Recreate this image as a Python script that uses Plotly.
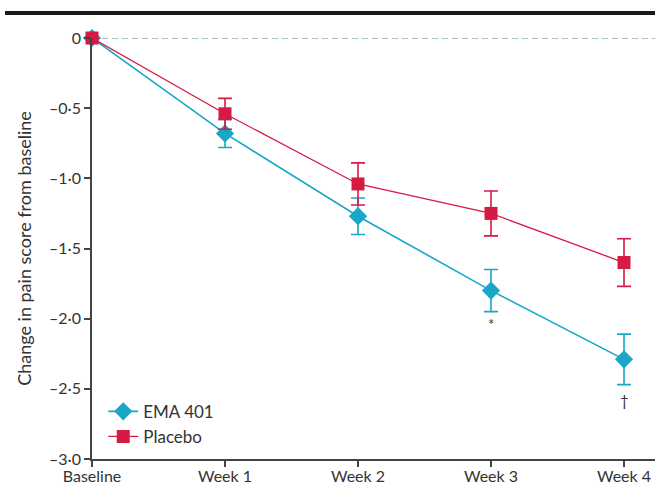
import plotly.graph_objects as go

categories = ["Baseline", "Week 1", "Week 2", "Week 3", "Week 4"]
ema401 = [0, -0.68, -1.27, -1.80, -2.29]
ema401_err = [0, 0.10, 0.13, 0.15, 0.18]
placebo = [0, -0.54, -1.04, -1.25, -1.60]
placebo_err = [0, 0.11, 0.15, 0.16, 0.17]
ytick_vals = [0, -0.5, -1.0, -1.5, -2.0, -2.5, -3.0]
ytick_text = ["0", "–0·5", "–1·0", "–1·5", "–2·0", "–2·5", "–3·0"]
sig_marks = [(3, -2.04, "*"), (4, -2.58, "†")]

BLUE = "#19a6c8"
RED = "#d51a43"
FONT = "Lato, Open Sans, sans-serif"
TXT = "#333333"

fig = go.Figure()
fig.add_trace(go.Scatter(
    x=categories, y=ema401, name="EMA 401", mode="lines+markers",
    line=dict(color=BLUE, width=1.6),
    marker=dict(symbol="diamond", size=14, color=BLUE),
    error_y=dict(type="data", array=ema401_err, color=BLUE, thickness=1.6, width=7),
    cliponaxis=False,
))
fig.add_trace(go.Scatter(
    x=categories, y=placebo, name="Placebo", mode="lines+markers",
    line=dict(color=RED, width=1.3),
    marker=dict(symbol="square", size=13, color=RED),
    error_y=dict(type="data", array=placebo_err, color=RED, thickness=1.6, width=7),
    cliponaxis=False,
))

for xi, yi, t in sig_marks:
    fig.add_annotation(x=categories[xi], y=yi, text=t, showarrow=False,
                       font=dict(family=FONT, size=15, color=TXT))

# zero reference line
fig.add_shape(type="line", xref="paper", yref="y", x0=0, x1=1, y0=0, y1=0,
              line=dict(color="#4a7a88", width=1.2, dash="6px,4px"), layer="below")
# top black rule
fig.add_shape(type="line", xref="paper", yref="paper",
              x0=(5 - 92) / 563, x1=1.0, y0=(459 - 13) / 421, y1=(459 - 13) / 421,
              line=dict(color="#1a1a1a", width=4))

fig.update_layout(
    width=655, height=487,
    margin=dict(l=92, r=0, t=38, b=28, autoexpand=False),
    paper_bgcolor="white", plot_bgcolor="white",
    font=dict(family=FONT, size=16, color=TXT),
    showlegend=True,
    legend=dict(x=0.02, y=0.01, xanchor="left", yanchor="bottom",
                bgcolor="rgba(0,0,0,0)", font=dict(size=17, color=TXT),
                itemwidth=30, tracegroupgap=2),
    xaxis=dict(type="category", range=[0, 4.233], showgrid=False, automargin=False,
               showline=True, linecolor="#444444", linewidth=1.5,
               ticks="outside", ticklen=6, tickcolor="#444444", tickwidth=1.5,
               tickfont=dict(size=16, color=TXT), zeroline=False,
               ticklabelstandoff=-4),
    yaxis=dict(range=[-3.0, 0], showgrid=False, zeroline=False, automargin=False,
               tickvals=ytick_vals, ticktext=ytick_text,
               showline=True, linecolor="#444444", linewidth=1.5,
               ticks="outside", ticklen=6, tickcolor="#444444", tickwidth=1.5,
               tickfont=dict(size=16, color=TXT),
               title=dict(text="Change in pain score from baseline",
                          font=dict(size=18, color=TXT), standoff=13)),
)

fig.write_html(
    "out.html",
    config={"displayModeBar": False},
    post_script="document.body.style.margin='0';document.body.style.overflow='hidden';",
)
